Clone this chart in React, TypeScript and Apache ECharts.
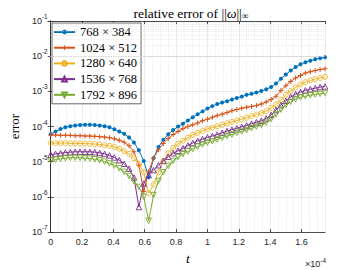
import React, { useEffect, useRef } from "react";
import * as echarts from "echarts";

// time t (x 1e-4)
const T = [
  0, 0.03125, 0.0625, 0.09375, 0.125, 0.15625, 0.1875, 0.21875, 0.25, 0.28125,
  0.3125, 0.34375, 0.375, 0.40625, 0.4375, 0.46875, 0.5, 0.53125, 0.5625, 0.59375,
  0.625, 0.65625, 0.6875, 0.71875, 0.75, 0.78125, 0.8125, 0.84375, 0.875, 0.90625,
  0.9375, 0.96875, 1.0, 1.03125, 1.0625, 1.09375, 1.125, 1.15625, 1.1875, 1.21875,
  1.25, 1.28125, 1.3125, 1.34375, 1.375, 1.40625, 1.4375, 1.46875, 1.5, 1.53125,
  1.5625, 1.59375, 1.625, 1.65625, 1.6875, 1.71875, 1.75,
];

const names = ["768 × 384", "1024 × 512", "1280 × 640", "1536 × 768", "1792 × 896"];

const err768 = [
  6.0e-5, 7.2e-5, 8.5e-5, 9.5e-5, 1.02e-4, 1.07e-4, 1.1e-4, 1.12e-4, 1.12e-4, 1.1e-4,
  1.07e-4, 1.02e-4, 9.5e-5, 8.3e-5, 7.2e-5, 6.2e-5, 4.9e-5, 3.5e-5, 2.1e-5, 1.05e-5,
  3.6e-6, 1.26e-5, 2.6e-5, 4.2e-5, 6.0e-5, 7.9e-5, 1.0e-4, 1.2e-4, 1.48e-4, 1.82e-4,
  2.24e-4, 2.69e-4, 3.24e-4, 3.8e-4, 4.37e-4, 4.79e-4, 5.25e-4, 5.89e-4, 6.46e-4, 7.08e-4,
  7.94e-4, 8.5e-4, 9.3e-4, 1.02e-3, 1.15e-3, 1.32e-3, 1.66e-3, 2.29e-3, 3.02e-3, 3.89e-3,
  4.9e-3, 5.89e-3, 6.76e-3, 7.41e-3, 8.13e-3, 8.71e-3, 9.33e-3,
];
const err1024 = [
  5.75e-5, 5.75e-5, 5.62e-5, 5.62e-5, 5.6e-5, 5.5e-5, 5.5e-5, 5.37e-5, 5.35e-5, 5.25e-5,
  5.13e-5, 5.0e-5, 4.79e-5, 4.47e-5, 4.07e-5, 3.55e-5, 2.82e-5, 1.91e-5, 7.94e-6, 1.41e-6,
  5.25e-6, 1.26e-5, 2.19e-5, 3.31e-5, 4.57e-5, 5.89e-5, 7.24e-5, 8.71e-5, 1.0e-4, 1.12e-4,
  1.26e-4, 1.45e-4, 1.62e-4, 1.82e-4, 2.04e-4, 2.24e-4, 2.51e-4, 2.82e-4, 3.02e-4, 3.31e-4,
  3.55e-4, 3.72e-4, 3.98e-4, 4.37e-4, 5.01e-4, 5.89e-4, 7.24e-4, 1.05e-3, 1.45e-3, 1.91e-3,
  2.4e-3, 2.82e-3, 3.31e-3, 3.63e-3, 3.89e-3, 4.17e-3, 4.37e-3,
];
const err1280 = [
  3.39e-5, 3.39e-5, 3.39e-5, 3.39e-5, 3.31e-5, 3.31e-5, 3.31e-5, 3.24e-5, 3.24e-5, 3.16e-5,
  3.09e-5, 2.95e-5, 2.82e-5, 2.63e-5, 2.34e-5, 2.0e-5, 1.66e-5, 1.26e-5, 8.5e-6, 5.0e-6,
  1.26e-6, 2.24e-6, 5.0e-6, 1.05e-5, 1.74e-5, 2.45e-5, 3.24e-5, 3.98e-5, 4.79e-5, 5.75e-5,
  6.61e-5, 7.59e-5, 8.51e-5, 9.33e-5, 1.02e-4, 1.12e-4, 1.23e-4, 1.35e-4, 1.48e-4, 1.62e-4,
  1.78e-4, 2.0e-4, 2.19e-4, 2.4e-4, 2.75e-4, 3.39e-4, 4.27e-4, 5.75e-4, 7.94e-4, 1.02e-3,
  1.29e-3, 1.58e-3, 1.82e-3, 2.04e-3, 2.24e-3, 2.4e-3, 2.57e-3,
];
const err1536 = [
  1.58e-5, 1.66e-5, 1.74e-5, 1.82e-5, 1.86e-5, 1.91e-5, 1.91e-5, 1.91e-5, 1.91e-5, 1.86e-5,
  1.78e-5, 1.66e-5, 1.51e-5, 1.32e-5, 1.1e-5, 8.71e-6, 6.31e-6, 3.55e-6, 5.13e-7, 2.4e-6,
  4.17e-6, 5.75e-6, 7.94e-6, 1.05e-5, 1.38e-5, 1.74e-5, 2.04e-5, 2.4e-5, 2.88e-5, 3.39e-5,
  3.89e-5, 4.37e-5, 4.9e-5, 5.37e-5, 5.89e-5, 6.61e-5, 7.41e-5, 8.13e-5, 8.91e-5, 9.77e-5,
  1.07e-4, 1.2e-4, 1.32e-4, 1.45e-4, 1.7e-4, 2.14e-4, 2.95e-4, 4.07e-4, 5.37e-4, 6.92e-4,
  8.32e-4, 9.55e-4, 1.07e-3, 1.15e-3, 1.23e-3, 1.32e-3, 1.38e-3,
];
const err1792 = [
  1.07e-5, 1.15e-5, 1.2e-5, 1.26e-5, 1.29e-5, 1.29e-5, 1.29e-5, 1.26e-5, 1.23e-5, 1.17e-5,
  1.1e-5, 1.0e-5, 8.91e-6, 7.76e-6, 6.46e-6, 5.13e-6, 3.89e-6, 2.75e-6, 1.91e-6, 1.0e-6,
  2.09e-7, 1.12e-6, 2.82e-6, 5.01e-6, 7.59e-6, 1.05e-5, 1.35e-5, 1.66e-5, 1.95e-5, 2.29e-5,
  2.69e-5, 3.09e-5, 3.47e-5, 3.8e-5, 4.27e-5, 4.79e-5, 5.37e-5, 5.89e-5, 6.61e-5, 7.24e-5,
  7.94e-5, 8.91e-5, 1.0e-4, 1.1e-4, 1.29e-4, 1.62e-4, 2.19e-4, 3.02e-4, 4.07e-4, 5.01e-4,
  6.03e-4, 6.76e-4, 7.24e-4, 7.76e-4, 8.13e-4, 8.51e-4, 8.91e-4,
];

const allSeries = [err768, err1024, err1280, err1536, err1792];
const colors = ["#0072BD", "#D95319", "#EDB120", "#7E2F8E", "#77AC30"];

const AX = "#262626";
const SANS = "'Liberation Sans', Arial, sans-serif";
const SERIF = "'Liberation Serif', 'DejaVu Serif', serif";

const PLUS = "path://M2,0H3V2H5V3H3V5H2V3H0V2H2Z";

// minor grid values for log axis (2..9 per decade)
const minorY: number[] = [];
for (let e = -7; e < -1; e++) {
  for (let m = 2; m <= 9; m++) minorY.push(m * Math.pow(10, e));
}

export default function App() {
  const ref = useRef<HTMLDivElement>(null);
  useEffect(() => {
    if (!ref.current) return;
    const chart = echarts.init(ref.current, undefined, { renderer: "svg" });

    const markerCfg = [
      { symbol: "circle", symbolSize: 4, filled: true, rotate: 0 },
      { symbol: PLUS, symbolSize: 5, filled: true, rotate: 0 },
      { symbol: "circle", symbolSize: 5, filled: false, rotate: 0 },
      { symbol: "triangle", symbolSize: 5.5, filled: false, rotate: 0 },
      { symbol: "triangle", symbolSize: 5.5, filled: false, rotate: 180 },
    ];

    const series: any[] = allSeries.map((arr, k) => {
      const m = markerCfg[k];
      return {
        type: "line",
        name: names[k],
        data: T.map((t, i) => [t, arr[i]]),
        color: colors[k],
        symbol: m.symbol,
        symbolSize: m.symbolSize,
        symbolRotate: m.rotate,
        showAllSymbol: true,
        lineStyle: { width: 1, color: colors[k] },
        itemStyle: m.filled
          ? { color: colors[k] }
          : { color: "rgba(255,255,255,0)", borderColor: colors[k], borderWidth: 0.9 },
        z: 3,
      };
    });

    series.push({
      type: "line",
      name: "minorgrid",
      data: [],
      silent: true,
      z: 1,
      markLine: {
        silent: true,
        symbol: ["none", "none"],
        label: { show: false },
        lineStyle: { color: "#d2d2d2", type: [1, 1.5], width: 0.6 },
        emphasis: { disabled: true },
        data: minorY.map((v) => ({ yAxis: v })),
      },
    });

    const yLabelRich = {
      b: { fontSize: 9, fontFamily: SANS, color: AX, lineHeight: 16, verticalAlign: "middle" },
      s: { fontSize: 6.5, fontFamily: SANS, color: AX, verticalAlign: "top" },
    };

    chart.setOption({
      animation: false,
      backgroundColor: "#fff",
      title: {
        text: "relative error of ||{it|ω}||{sub|∞}",
        left: 186,
        top: 0,
        textAlign: "center",
        textStyle: {
          fontFamily: SERIF,
          fontSize: 13.5,
          fontWeight: "normal",
          color: "#000",
          lineHeight: 16,
          rich: {
            it: { fontFamily: SERIF, fontSize: 13.5, fontStyle: "italic", color: "#000", lineHeight: 16 },
            sub: { fontFamily: SERIF, fontSize: 9.5, color: "#000", verticalAlign: "bottom", lineHeight: 16 },
          },
        },
      },
      legend: {
        data: names,
        orient: "vertical",
        left: 52,
        top: 23,
        selectedMode: false,
        backgroundColor: "#fff",
        borderColor: AX,
        borderWidth: 0.7,
        borderRadius: 0,
        padding: [2, 4, 2, 1],
        itemGap: 1.7,
        itemWidth: 21,
        itemHeight: 6,
        textStyle: { fontFamily: SERIF, fontSize: 12.5, color: "#000", lineHeight: 14 },
      },
      grid: { left: 46, right: 35, top: 21, bottom: 32, show: false },
      xAxis: [
        {
          type: "value",
          min: 0,
          max: 1.75,
          interval: 0.2,
          name: "t",
          nameLocation: "middle",
          nameGap: 19,
          nameTextStyle: { fontFamily: SERIF, fontStyle: "italic", fontSize: 13.5, color: "#000" },
          axisLine: { show: true, lineStyle: { color: AX, width: 0.8 } },
          axisTick: { show: true, inside: true, length: 3, lineStyle: { color: AX, width: 0.8 } },
          axisLabel: { fontFamily: SANS, fontSize: 9, color: AX, margin: 5, showMaxLabel: false },
          splitLine: { show: true, lineStyle: { color: "#e2e2e2", width: 0.7 } },
          minorTick: { show: false, splitNumber: 4 },
          minorSplitLine: { show: true, lineStyle: { color: "#d6d6d6", type: [1, 1.5], width: 0.6 } },
        },
        {
          type: "value",
          position: "top",
          min: 0,
          max: 1.75,
          interval: 0.2,
          axisLine: { show: true, lineStyle: { color: AX, width: 0.8 } },
          axisTick: { show: true, inside: true, length: 3, lineStyle: { color: AX, width: 0.8 } },
          axisLabel: { show: false },
          splitLine: { show: false },
        },
      ],
      yAxis: [
        {
          type: "log",
          logBase: 10,
          min: 1e-7,
          max: 1e-1,
          splitNumber: 6,
          name: "error",
          nameLocation: "middle",
          nameGap: 25,
          nameTextStyle: { fontFamily: SERIF, fontSize: 13, color: "#000" },
          axisLine: { show: true, lineStyle: { color: AX, width: 0.8 } },
          axisTick: { show: true, inside: true, length: 3, lineStyle: { color: AX, width: 0.8 } },
          axisLabel: {
            margin: 3,
            formatter: (v: number) => `{b|10}{s|${Math.round(Math.log10(v))}}`,
            rich: yLabelRich,
          },
          splitLine: { show: true, lineStyle: { color: "#e2e2e2", width: 0.7 } },
        },
        {
          type: "log",
          logBase: 10,
          min: 1e-7,
          max: 1e-1,
          splitNumber: 6,
          position: "right",
          axisLine: { show: true, lineStyle: { color: AX, width: 0.8 } },
          axisTick: { show: true, inside: true, length: 3, lineStyle: { color: AX, width: 0.8 } },
          axisLabel: { show: false },
          splitLine: { show: false },
        },
      ],
      graphic: [
        {
          type: "text",
          right: 34,
          bottom: 2,
          style: {
            text: "{m|×10}{s|-4}",
            rich: {
              m: { fontSize: 9, fontFamily: SANS, fill: AX, lineHeight: 14, verticalAlign: "middle" },
              s: { fontSize: 6.5, fontFamily: SANS, fill: AX, verticalAlign: "top" },
            },
          },
        },
      ],
      series,
    });
    return () => chart.dispose();
  }, []);
  return (
    <div
      ref={ref}
      style={{ position: "absolute", left: 0, top: 0, width: 360, height: 270, background: "#fff" }}
    />
  );
}
